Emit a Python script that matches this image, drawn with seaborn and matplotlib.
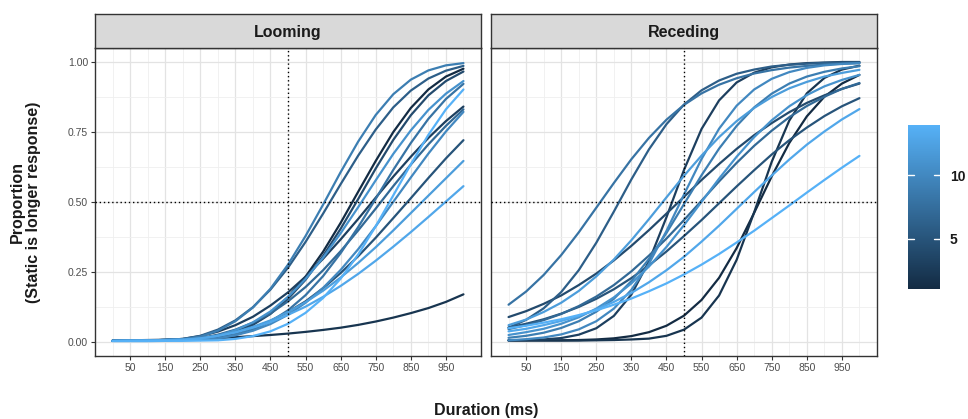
import matplotlib
matplotlib.use("Agg")
import matplotlib.pyplot as plt
import pandas as pd
import seaborn as sns
from matplotlib.colors import LinearSegmentedColormap, Normalize
from matplotlib.cm import ScalarMappable

# ---------------- data ----------------
durations = [0, 50, 100, 150, 200, 250, 300, 350, 400, 450, 500,
             550, 600, 650, 700, 750, 800, 850, 900, 950, 1000]
participants = [1, 2, 3, 4, 5, 6, 7, 8, 9, 10, 11, 12, 13, 14]
conditions = ["Looming", "Receding"]
x_ticks = [50, 150, 250, 350, 450, 550, 650, 750, 850, 950]
y_ticks = [0.0, 0.25, 0.5, 0.75, 1.0]
y_tick_labels = ["0.00", "0.25", "0.50", "0.75", "1.00"]
colorbar_ticks = [5, 10]
reference_duration = 500
reference_proportion = 0.5

looming_p01 = [.004, .005, .006, .007, .009, .012, .020, .036, .063, .104, .160, .233, .322, .425, .536, .646, .749, .835, .901, .947, .975]
looming_p02 = [.005, .006, .007, .008, .010, .012, .014, .017, .021, .025, .030, .036, .043, .051, .061, .073, .087, .103, .121, .143, .170]
looming_p03 = [.004, .005, .006, .007, .011, .021, .037, .060, .090, .130, .177, .233, .297, .366, .439, .515, .590, .661, .728, .788, .840]
looming_p04 = [.004, .005, .006, .007, .008, .010, .018, .035, .061, .100, .154, .222, .307, .404, .510, .619, .721, .809, .880, .931, .965]
looming_p05 = [.004, .005, .006, .007, .008, .011, .019, .032, .050, .075, .107, .145, .192, .246, .306, .372, .442, .513, .585, .655, .720]
looming_p06 = [.004, .005, .006, .007, .011, .022, .044, .077, .124, .187, .265, .357, .458, .563, .665, .758, .837, .897, .940, .968, .985]
looming_p07 = [.004, .005, .006, .007, .008, .014, .026, .044, .069, .102, .145, .196, .256, .324, .398, .476, .556, .633, .705, .771, .830]
looming_p08 = [.004, .005, .006, .007, .008, .009, .013, .025, .044, .073, .113, .167, .235, .317, .410, .511, .614, .710, .796, .867, .921]
looming_p09 = [.004, .005, .006, .007, .010, .019, .040, .074, .123, .190, .276, .378, .490, .606, .715, .810, .884, .936, .969, .987, .995]
looming_p10 = [.004, .005, .006, .007, .008, .009, .013, .024, .040, .064, .097, .140, .193, .257, .331, .413, .500, .587, .672, .751, .821]
looming_p11 = [.004, .005, .006, .007, .008, .011, .023, .042, .070, .109, .161, .225, .301, .388, .481, .577, .671, .755, .828, .886, .931]
looming_p12 = [.004, .005, .006, .007, .008, .012, .022, .035, .054, .077, .107, .142, .183, .230, .282, .338, .398, .460, .522, .584, .646]
looming_p13 = [.004, .005, .006, .007, .008, .013, .022, .034, .051, .071, .097, .126, .161, .200, .243, .290, .340, .392, .446, .501, .556]
looming_p14 = [.003, .003, .003, .004, .004, .005, .006, .011, .021, .038, .065, .104, .157, .226, .312, .413, .523, .634, .739, .830, .901]

receding_p01 = [.006, .006, .006, .006, .007, .009, .013, .021, .035, .058, .094, .150, .229, .335, .461, .591, .710, .805, .875, .922, .953]
receding_p02 = [.005, .005, .005, .005, .005, .006, .007, .009, .012, .022, .044, .087, .166, .293, .463, .643, .790, .887, .942, .972, .986]
receding_p03 = [.006, .007, .009, .014, .026, .049, .093, .169, .288, .445, .614, .760, .862, .926, .961, .980, .990, .995, .997, .999, .999]
receding_p04 = [.089, .110, .136, .166, .203, .244, .291, .343, .399, .458, .518, .578, .635, .689, .738, .781, .820, .853, .880, .903, .922]
receding_p05 = [.052, .065, .081, .101, .125, .154, .188, .228, .273, .323, .378, .435, .495, .555, .613, .669, .720, .765, .806, .841, .870]
receding_p06 = [.051, .079, .120, .178, .256, .354, .465, .580, .687, .777, .847, .898, .933, .957, .972, .983, .989, .993, .996, .997, .998]
receding_p07 = [.046, .060, .078, .100, .128, .162, .203, .252, .308, .369, .435, .504, .573, .639, .700, .754, .802, .842, .875, .903, .924]
receding_p08 = [.133, .180, .239, .310, .391, .479, .567, .652, .728, .793, .846, .887, .918, .941, .958, .970, .979, .985, .990, .993, .995]
receding_p09 = [.015, .022, .033, .050, .074, .108, .154, .217, .296, .389, .492, .595, .690, .771, .837, .886, .922, .947, .964, .976, .984]
receding_p10 = [.006, .010, .016, .027, .045, .074, .119, .186, .279, .396, .526, .653, .761, .843, .901, .939, .963, .978, .987, .992, .995]
receding_p11 = [.025, .035, .047, .065, .088, .119, .159, .209, .269, .339, .417, .500, .583, .661, .731, .791, .841, .881, .912, .935, .953]
receding_p12 = [.060, .080, .107, .140, .182, .234, .294, .363, .438, .516, .593, .665, .731, .788, .835, .874, .905, .928, .947, .960, .971]
receding_p13 = [.038, .047, .060, .075, .093, .116, .143, .175, .213, .256, .304, .358, .415, .475, .535, .594, .651, .704, .751, .794, .831]
receding_p14 = [.049, .058, .069, .081, .096, .113, .133, .155, .181, .209, .241, .276, .314, .355, .397, .442, .487, .533, .578, .622, .664]

looming = [looming_p01, looming_p02, looming_p03, looming_p04, looming_p05,
           looming_p06, looming_p07, looming_p08, looming_p09, looming_p10,
           looming_p11, looming_p12, looming_p13, looming_p14]
receding = [receding_p01, receding_p02, receding_p03, receding_p04, receding_p05,
            receding_p06, receding_p07, receding_p08, receding_p09, receding_p10,
            receding_p11, receding_p12, receding_p13, receding_p14]

rows = []
for cond, series in zip(conditions, [looming, receding]):
    for pid, vals in zip(participants, series):
        for d, v in zip(durations, vals):
            rows.append((cond, pid, d, v))
df = pd.DataFrame(rows, columns=["condition", "participant", "duration", "proportion"])

# ---------------- style ----------------
sns.set_theme(style="white")
plt.rcParams["font.family"] = ["Liberation Sans", "DejaVu Sans"]

cmap = LinearSegmentedColormap.from_list("gg", ["#132B43", "#56B1F7"])
norm = Normalize(vmin=min(participants), vmax=max(participants))
palette = {p: cmap(norm(p)) for p in participants}

W, H = 968, 419
fig = plt.figure(figsize=(W / 100, H / 100), dpi=100)
fig.patch.set_facecolor("white")

panel_left_px = [95, 491]
panel_w_px = 386
panel_top_px, panel_bottom_px = 47.7, 356
strip_top_px = 14

border_col = "#333333"

for i, cond in enumerate(conditions):
    lx = panel_left_px[i] / W
    ax = fig.add_axes([lx, 1 - panel_bottom_px / H, panel_w_px / W,
                       (panel_bottom_px - panel_top_px) / H])
    sub = df[df["condition"] == cond]
    sns.lineplot(data=sub, x="duration", y="proportion", hue="participant",
                 palette=palette, legend=False, ax=ax, linewidth=1.6,
                 estimator=None, sort=True)
    ax.set_xlim(-50, 1050)
    ax.set_ylim(-0.05, 1.05)
    ax.set_xticks(x_ticks)
    ax.set_xticks([0, 100, 200, 300, 400, 500, 600, 700, 800, 900, 1000], minor=True)
    ax.set_yticks(y_ticks)
    ax.set_yticks([0.125, 0.375, 0.625, 0.875], minor=True)
    ax.set_yticklabels(y_tick_labels)
    ax.grid(which="major", color="#E3E3E3", linewidth=0.9)
    ax.grid(which="minor", color="#EFEFEF", linewidth=0.6)
    ax.set_axisbelow(True)
    ax.set_facecolor("white")
    for s in ax.spines.values():
        s.set_color(border_col)
        s.set_linewidth(1.0)
    ax.tick_params(axis="both", which="major", length=3, width=0.8,
                   color=border_col, labelsize=7.5, labelcolor="#4D4D4D", pad=2,
                   bottom=True, left=True)
    ax.tick_params(axis="both", which="minor", length=0)
    if i == 1:
        ax.tick_params(axis="y", left=False, labelleft=False)
    ax.set_xlabel("")
    ax.set_ylabel("")
    ax.axvline(reference_duration, color="black", linestyle=(0, (1, 2)),
               linewidth=1.0, zorder=6)
    ax.axhline(reference_proportion, color="black", linestyle=(0, (1, 2)),
               linewidth=1.0, zorder=6)

    # facet strip
    sax = fig.add_axes([lx, 1 - panel_top_px / H, panel_w_px / W,
                        (panel_top_px - strip_top_px) / H])
    sax.set_facecolor("#D9D9D9")
    sax.set_xticks([])
    sax.set_yticks([])
    for s in sax.spines.values():
        s.set_color(border_col)
        s.set_linewidth(1.0)
    sax.text(0.5, 0.45, cond, ha="center", va="center", fontsize=11.5,
             fontweight="bold", color="#1A1A1A", transform=sax.transAxes)

# axis titles
fig.text(486 / W, 1 - 410 / H, "Duration (ms)", ha="center", va="center",
         fontsize=11.5, fontweight="bold", color="#1A1A1A")
fig.text(25 / W, 1 - 202 / H, "Proportion\n(Static is longer response)",
         ha="center", va="center", rotation=90, fontsize=11.5,
         fontweight="bold", color="#1A1A1A", multialignment="center",
         linespacing=1.1)

# colour bar
cax = fig.add_axes([908 / W, 1 - 289 / H, 32 / W, 164 / H])
sm = ScalarMappable(norm=norm, cmap=cmap)
cb = fig.colorbar(sm, cax=cax)
cb.outline.set_visible(False)
cb.set_ticks(colorbar_ticks)
cb.ax.tick_params(axis="y", length=0, labelsize=10, pad=7)
for t in cb.ax.get_yticklabels():
    t.set_fontweight("bold")
    t.set_color("#1A1A1A")
for v in colorbar_ticks:
    cb.ax.axhline(v, xmin=0.0, xmax=0.2, color="white", linewidth=1.0, zorder=5)
    cb.ax.axhline(v, xmin=0.8, xmax=1.0, color="white", linewidth=1.0, zorder=5)

fig.savefig("out.png", dpi=100, facecolor="white")
